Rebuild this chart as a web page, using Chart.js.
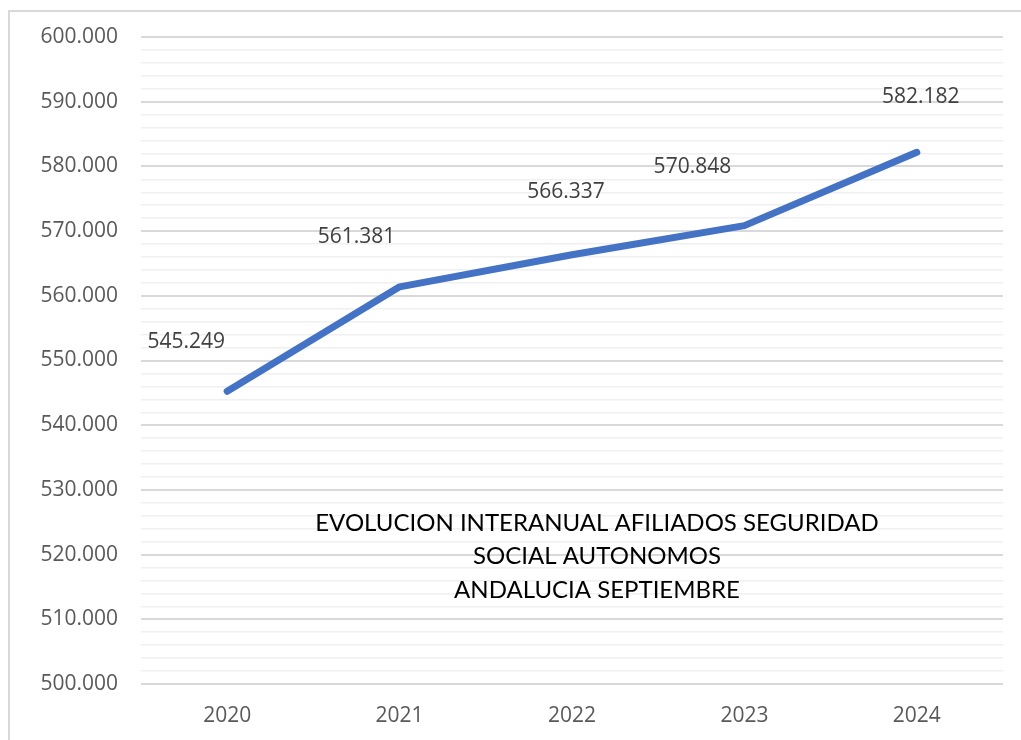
<!DOCTYPE html>
<html>
<head>
<meta charset="utf-8">
<script src="https://cdn.jsdelivr.net/npm/chart.js@4.4.1/dist/chart.umd.min.js"></script>
<style>
  html, body { margin: 0; padding: 0; background: #fff; }
  #wrap { width: 1021px; height: 740px; position: relative; }
</style>
</head>
<body>
<div id="wrap"><canvas id="chart" width="1021" height="740"></canvas></div>
<script>
/* ── data ── */
var years = ['2020', '2021', '2022', '2023', '2024'];
var afiliados = [545249, 561381, 566337, 570848, 582182];
var titleLines = ['EVOLUCION INTERANUAL AFILIADOS SEGURIDAD', 'SOCIAL AUTONOMOS', 'ANDALUCIA SEPTIEMBRE'];

/* label offsets from each point (px), placed by hand like in the workbook */
var labelDx = [-41, -43, -6, -52, 4];
var labelDy = [-49, -50, -63, -59, -55];

function fmt(v) {
  return String(v).replace(/\B(?=(\d{3})+(?!\d))/g, '.');
}

var frame = {
  id: 'frame',
  beforeDraw: function(chart) {
    var c = chart.ctx;
    c.save();
    c.strokeStyle = '#d9d9d9';
    c.lineWidth = 2;
    c.strokeRect(9, 11, chart.width + 10, chart.height + 10);
    c.restore();
  }
};

var labels = {
  id: 'labels',
  afterDatasetsDraw: function(chart) {
    var c = chart.ctx;
    var meta = chart.getDatasetMeta(0);
    c.save();
    c.font = '21px "Open Sans"';
    c.fillStyle = '#404040';
    c.textAlign = 'center';
    c.textBaseline = 'middle';
    meta.data.forEach(function(pt, i) {
      c.fillText(fmt(afiliados[i]), pt.x + labelDx[i], pt.y + labelDy[i]);
    });

    var a = chart.chartArea;
    c.font = '24px Lato';
    c.fillStyle = '#000';
    var cx = a.left + (a.right - a.left) * 0.529;
    var cy = chart.scales.y.getPixelForValue(524900);
    titleLines.forEach(function(t, i) {
      c.fillText(t, cx, cy + i * 33.5);
    });
    c.restore();
  }
};

new Chart(document.getElementById('chart'), {
  type: 'line',
  data: {
    labels: years,
    datasets: [{
      data: afiliados,
      borderColor: '#4472c4',
      borderWidth: 7,
      borderCapStyle: 'round',
      borderJoinStyle: 'round',
      pointRadius: 0,
      tension: 0,
      fill: false
    }]
  },
  options: {
    responsive: false,
    animation: false,
    devicePixelRatio: 1,
    layout: { padding: { top: 37, right: 18, bottom: 0, left: 0 } },
    plugins: { legend: { display: false }, tooltip: { enabled: false } },
    scales: {
      x: {
        offset: true,
        grid: { display: false, drawTicks: false },
        border: { display: false },
        ticks: { color: '#595959', font: { family: 'Open Sans', size: 21 }, padding: 19 },
        afterFit: function(s) { s.height = 56; }
      },
      y: {
        min: 500000,
        max: 600000,
        grid: {
          drawTicks: false,
          color: function(ctx) { return ctx.tick && ctx.tick.value % 10000 === 0 ? '#d9d9d9' : '#f0f0f0'; },
          lineWidth: function(ctx) { return ctx.tick && ctx.tick.value % 10000 === 0 ? 2 : 1.5; }
        },
        border: { display: false },
        ticks: {
          stepSize: 2000,
          autoSkip: false,
          color: '#595959',
          font: { family: 'Open Sans', size: 21 },
          padding: 23,
          callback: function(v) { return v % 10000 === 0 ? fmt(v) : ''; }
        },
        afterFit: function(s) { s.width = 141; }
      }
    }
  },
  plugins: [frame, labels]
});
</script>
</body>
</html>
